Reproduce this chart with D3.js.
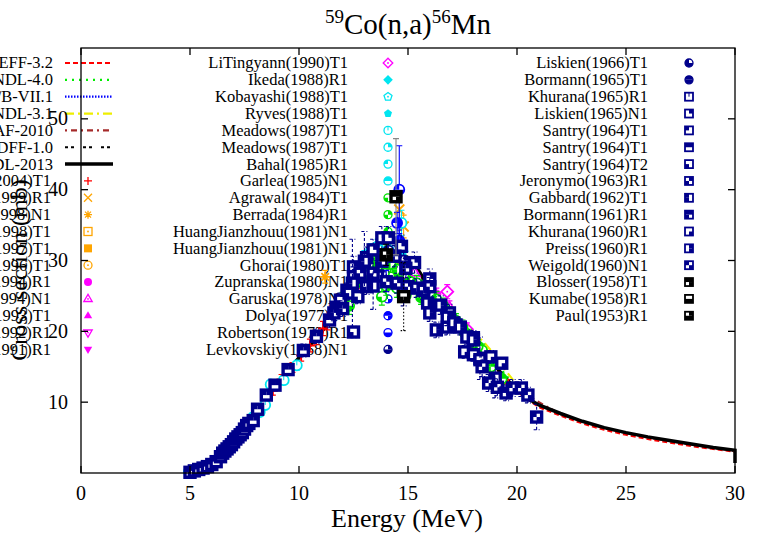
<!DOCTYPE html>
<html><head><meta charset="utf-8">
<script src="https://cdn.jsdelivr.net/npm/d3@7"></script>
<style>body{margin:0;background:#fff}</style>
</head><body><svg id="c" width="761" height="534" font-family="Liberation Serif, Times New Roman, serif" style="display:block"></svg>
<script>
// ---------- evaluated data ----------
const evalNames = ["JEFF-3.2","JENDL-4.0","ENDF/B-VII.1","CENDL-3.1","EAF-2010","IRDFF-1.0","TENDL-2013"];
const tendlE = [4.8,5,5.5,6,6.5,7,7.5,8,8.5,9,9.5,10,10.5,11,11.5,12,12.5,13,13.5,14,14.5,15,15.5,16,16.5,17,17.5,18,18.5,19,19.5,20,20.5,21,22,23,24,25,26,27,28,29,30,30];
const tendlS = [0,0.1,0.6,1.3,2.6,4.3,6.3,8.6,10.7,12.5,14.4,16.3,18.0,19.8,21.8,23.7,25.6,27.3,29.0,30.4,31.3,30.4,28.5,26.1,23.9,22.2,20.8,19.2,17.2,15.1,13.3,11.8,10.5,9.6,8.4,7.3,6.4,5.7,5.1,4.6,4.1,3.6,3.2,1.4];
const jeffE = [4.8,5,5.5,6,6.5,7,7.5,8,8.5,9,9.5,10,11,12,13,14,14.5,15,16,17,18,19,20,21,22,23,24,25,26,27,28,29,30];
const jeffS = [0,0.1,0.5,1.2,2.5,4.2,6.2,8.4,10.5,12.4,14.3,16.2,19.7,23.5,27.0,30.1,30.9,30.0,25.8,21.9,18.8,14.8,11.5,9.3,8.1,7.0,6.1,5.4,4.8,4.3,3.8,3.4,3.0];
const jendlE = [4.8,5,6,7,8,9,10,11,12,13,14,14.5,15,16,17,17.5,18,19,20];
const jendlS = [0,0.1,1.3,4.4,8.7,12.6,16.4,19.9,23.8,27.4,30.3,31.0,30.2,26.4,22.8,21.4,20.0,15.6,12.0];
const endfE = [4.8,5,6,7,8,9,10,11,12,13,14,14.5,15,16,17,18,19,20];
const endfS = [0,0.1,1.2,4.2,8.5,12.4,16.2,19.7,23.6,27.2,30.2,31.0,30.1,26.0,22.1,18.9,15.0,11.7];
const cendlE = [4.8,5,6,7,8,9,10,11,12,13,14,14.5,15,16,17,18,18.5,19,19.5,20];
const cendlS = [0,0.1,1.3,4.3,8.6,12.5,16.3,19.8,23.7,27.3,30.3,31.1,30.3,26.3,22.7,19.9,18.4,16.6,14.4,12.4];
const eafE = [4.8,5,6,7,8,9,10,11,12,13,14,14.5,15,16,17,18,19,20,22,24,26,28,30];
const eafS = [0,0.1,1.3,4.3,8.6,12.5,16.3,19.8,23.7,27.3,30.4,31.2,30.3,26.1,22.2,19.1,15.0,11.7,8.3,6.3,5.0,4.0,3.1];
const irdffE = [4.8,5,6,7,8,9,10,11,12,13,14,14.5,15,16,17,18,19,20];
const irdffS = [0,0.1,1.3,4.3,8.6,12.5,16.3,19.8,23.7,27.3,30.4,31.2,30.4,26.1,22.2,19.2,15.1,11.8];

// ---------- experimental data [E, sigma, dsigma] ----------
const exp01 = [[8.5,10.6,0.5],[8.8,11.6,0.6],[9.2,13.2,0.7],[9.7,14.9,0.7],[10.1,16.6,0.8],[10.5,18.0,0.9],[10.8,19.0,0.9],[11.1,20.4,1.0],[11.3,21.2,1.0],[11.5,22.6,1.1],[11.8,23.7,1.1],[12.1,24.6,1.2],[14.1,29.8,1.4],[17.6,19.5,0.9],[18.6,16.0,0.8],[19.6,12.6,0.6]];
const exp02 = [[14.6,37.2,1.8],[14.8,34.8,1.6]];
const exp03 = [[11.2,27.7,0.9],[13.7,31.2,1.2]];
const exp04 = [[14.0,30.9,1.3]];
const exp05 = [[14.7,29.2,1.2]];
const exp06 = [[13.5,29.3,1.3]];
const exp07 = [[16.3,25.2,0.9],[17.7,19.9,0.8]];
const exp08 = [[15.3,28.3,1.0],[16.9,23.4,0.9]];
const exp09 = [[14.4,30.2,1.2]];
const exp10 = [[18.5,15.9,0.8]];
const exp11 = [[13.9,28.8,1.1]];
const exp12 = [[16.8,25.6,1.0],[17.7,20.3,0.9]];
const exp13 = [[14.9,29.8,1.5]];
const exp14 = [[14.1,31.6,1.0]];
const exp15 = [[14.7,31.0,1.0]];
const exp16 = [[4.95,0.2,0.02],[5.4,0.5,0.03],[5.9,1.1,0.06],[6.4,2.2,0.1],[6.9,3.9,0.2],[7.4,5.9,0.3],[7.9,7.9,0.4],[8.2,8.6,0.4],[8.45,9.6,0.5],[8.7,12.5,0.6],[9.3,13.1,0.6],[9.9,15.2,0.7]];
const exp17 = [[13.3,31.4,1.0],[13.6,32.0,1.0]];
const exp18 = [[14.7,35.3,1.8]];
const exp19 = [[13.0,30.2,1.2]];
const exp20 = [[13.8,24.9,1.2]];
const exp21 = [[14.6,28.0,1.4]];
const exp22 = [[13.0,28.0,1.2],[13.3,27.4,1.2],[13.6,29.1,1.2],[13.9,28.2,1.2],[14.2,29.5,1.2],[14.5,28.7,1.2],[14.8,27.9,1.2],[15.1,27.0,1.2],[15.4,26.8,1.1],[15.7,26.1,1.1],[16.0,25.2,1.1],[16.3,24.5,1.1],[16.6,23.7,1.0],[16.9,22.5,1.0],[17.2,21.5,1.0],[17.5,20.6,1.0],[17.8,19.4,0.9],[18.1,18.2,0.9],[18.4,17.3,0.9]];
const exp23 = [[12.0,24.5,1.0],[12.4,26.1,1.0],[12.8,27.2,1.0],[13.2,29.6,1.1],[13.5,30.4,1.1],[14.9,25.1,1.0],[15.6,24.8,1.0],[16.2,23.9,1.0],[17.0,21.4,1.0],[17.6,19.8,0.9],[18.2,17.9,0.9],[18.8,15.0,0.8],[19.3,13.3,0.8]];
const exp24 = [[12.3,23.6,1.2],[14.0,26.4,1.3]];
const exp25 = [[14.5,26.1,1.3]];
const exp26 = [[14.6,40.0,6.2]];
const exp27 = [[14.5,35.3,1.5],[14.6,32.8,1.5]];
const exp28 = [[14.0,27.1,1.5]];
const exp29 = [[14.8,30.0,2.0]];
const exp30 = [[14.1,31.4,1.5]];
const exp31 = [[14.8,26.5,1.5]];
const exp32 = [[14.8,25.6,2.0],[13.6,27.8,2.2]];
const exp33 = [[12.5,29.1,1.5],[13.1,30.4,1.5],[13.4,31.5,1.5],[13.8,33.2,1.6],[14.1,33.2,1.6],[14.7,32.0,1.6],[15.3,29.7,1.5],[16.0,27.4,1.4]];
const exp34 = [[5.0,0.1,0.02],[5.2,0.3,0.03],[5.4,0.5,0.04],[5.6,0.7,0.05],[5.8,0.9,0.06],[6.0,1.2,0.08],[6.2,1.6,0.1],[6.4,2.3,0.12],[6.5,2.8,0.14],[6.6,3.1,0.15],[6.7,3.4,0.17],[6.8,3.7,0.19],[6.9,4.0,0.2],[7.0,4.4,0.22],[7.1,4.8,0.24],[7.2,5.1,0.26],[7.3,5.4,0.27],[7.4,5.7,0.28],[7.5,6.2,0.3],[7.6,6.7,0.33],[7.7,7.0,0.35]];
const exp35 = [[7.9,7.4,0.4],[8.1,9.0,0.45],[8.5,11.0,0.55],[8.9,12.4,0.6],[9.5,14.6,0.7],[10.2,17.3,0.9],[10.8,19.3,1.0],[11.4,21.6,1.1],[11.7,23.4,1.2]];
const exp36 = [[12.5,19.9,0.8],[11.9,24.4,1.0],[12.2,25.8,1.0],[12.3,25.4,1.0],[12.7,24.9,1.0],[13.1,26.3,1.1]];
const exp37 = [[12.5,27.7,1.4],[12.8,28.2,1.4],[13.4,28.2,1.4],[14.0,27.0,1.4],[14.5,26.8,1.4],[15.0,26.3,1.3],[15.4,26.1,1.3],[15.7,25.8,1.3],[16.0,26.3,1.3]];
const exp38 = [[12.45,26.8,6.2],[13.0,29.9,4.2],[13.4,26.4,3.3],[18.3,16.2,3.0],[19.0,13.4,2.8]];
const exp39 = [[11.6,22.6,1.1],[12.0,23.2,1.1],[13.8,29.9,1.4],[14.4,30.6,1.5],[14.9,28.9,1.4]];
const exp40 = [[16.9,22.6,1.2],[17.2,20.9,1.1],[16.8,20.6,1.1],[18.0,19.1,1.0],[17.6,17.1,0.9],[18.0,16.7,0.9],[18.3,16.0,0.9],[18.8,16.4,0.9],[19.3,15.5,0.8]];
const exp41 = [[15.9,24.0,1.3],[16.5,23.7,1.3],[16.0,22.6,1.2],[16.8,22.0,1.2],[17.1,21.2,1.1],[17.4,20.6,1.1],[16.3,20.2,1.1],[17.7,19.2,1.0],[18.0,18.8,1.0]];
const exp42 = [[18.4,15.0,1.4],[18.7,12.7,1.2],[19.1,12.1,1.2],[19.5,11.3,1.1],[19.8,12.0,1.2],[20.2,12.0,1.2],[20.5,11.0,1.1],[20.9,7.9,1.8]];
const exp43 = [[14.45,39.0,8.2]];
const exp44 = [[14.8,24.9,4.8]];
const exp45 = [[14.0,30.8,1.5]];

const expNames = ["Semkova(2004)T1","Filatenkov(1999)R1","Kong Xiangzhong(1998)N1","Fessler(1998)T1","Molla(1997)T1","Hussain(1996)T1",
 "Uwamino(1994)R1","Ikeda(1994)N1","Viennot(1993)T1","Kong Xiangzhong(1992)R1","Li Tingyan(1991)R1",
 "LiTingyann(1990)T1","Ikeda(1988)R1","Kobayashi(1988)T1","Ryves(1988)T1","Meadows(1987)T1","Meadows(1987)T1","Bahal(1985)R1","Garlea(1985)N1",
 "Agrawal(1984)T1","Berrada(1984)R1","HuangJianzhouu(1981)N1","HuangJianzhouu(1981)N1","Ghorai(1980)T1","Zupranska(1980)N1","Garuska(1978)N1",
 "Dolya(1977)T1","Robertson(1973)R1","Levkovskiy(1968)N1",
 "Liskien(1966)T1","Bormann(1965)T1","Khurana(1965)R1","Liskien(1965)N1","Santry(1964)T1","Santry(1964)T1","Santry(1964)T2","Jeronymo(1963)R1",
 "Gabbard(1962)T1","Bormann(1961)R1","Khurana(1960)R1","Preiss(1960)R1","Weigold(1960)N1","Blosser(1958)T1","Kumabe(1958)R1","Paul(1953)R1"];
const expData = [exp01,exp02,exp03,exp04,exp05,exp06,exp07,exp08,exp09,exp10,exp11,exp12,exp13,exp14,exp15,exp16,exp17,exp18,exp19,exp20,
 exp21,exp22,exp23,exp24,exp25,exp26,exp27,exp28,exp29,exp30,exp31,exp32,exp33,exp34,exp35,exp36,exp37,exp38,exp39,exp40,exp41,exp42,exp43,exp44,exp45];

const xTicks = [0,5,10,15,20,25,30];
const yTicks = [10,20,30,40,50];

// ---------- styles ----------
const RED="#ff0000", ORA="#ffa500", MAG="#ff00ff", CYA="#00e5f0", GRN="#00e000", BLU="#0000ff", NAV="#00008b", BLK="#000000";
const expStyle = [
 [RED,"plus"],[ORA,"cross"],[ORA,"star"],[ORA,"sqdot"],[ORA,"sqfill"],[ORA,"circdot"],
 [MAG,"circfill"],[MAG,"tridot"],[MAG,"trifill"],[MAG,"itridot"],[MAG,"itrifill"],[MAG,"diadot"],
 [CYA,"diafill"],[CYA,"pentdot"],[CYA,"pentfill"],[CYA,"c0"],[CYA,"c1"],[CYA,"c2"],[CYA,"c3"],
 [GRN,"c4"],[GRN,"c5"],[GRN,"c6"],[GRN,"c7"],[GRN,"c8"],[GRN,"c9"],
 [BLU,"c10"],[BLU,"c11"],[BLU,"c12"],[NAV,"c13"],[NAV,"c14"],[NAV,"c15"],
 [NAV,"s0"],[NAV,"s1"],[NAV,"s2"],[NAV,"s3"],[NAV,"s4"],[NAV,"s5"],[NAV,"s6"],[NAV,"s7"],[NAV,"s8"],[NAV,"s9"],[NAV,"s10"],
 [BLK,"s11"],[BLK,"s12"],[BLK,"s13"]];
const evalStyle = [
 {c:RED,w:2.2,d:"5,3"},{c:"#00ee00",w:2.2,d:"2,5"},{c:BLU,w:2.2,d:"1.5,1.5"},{c:"#eeee00",w:2.2,d:"9,4,2,4"},
 {c:"#a52a2a",w:2.2,d:"2,4,6,4"},{c:BLK,w:2.2,d:"3,3,3,9"},{c:BLK,w:3.5,d:null}];
const evalData = [[jeffE,jeffS],[jendlE,jendlS],[endfE,endfS],[cendlE,cendlS],[eafE,eafS],[irdffE,irdffS],[tendlE,tendlS]];

// ---------- chart ----------
const L=81,R=735,T=48,B=473;
const svg = d3.select("#c");
const x = d3.scaleLinear().domain([0,30]).range([L,R]);
const y = d3.scaleLinear().domain([0,60]).range([B,T]);

function symbol(g, type, col, cx, cy, s, sw, sqw){
  const h=s/2;
  const dot=()=>g.append("circle").attr("cx",cx).attr("cy",cy).attr("r",0.9).attr("fill",col);
  if(type==="plus"){g.append("path").attr("d",`M${cx-h},${cy}H${cx+h}M${cx},${cy-h}V${cy+h}`).attr("stroke",col).attr("stroke-width",sw).attr("fill","none");return;}
  if(type==="cross"){g.append("path").attr("d",`M${cx-h},${cy-h}L${cx+h},${cy+h}M${cx-h},${cy+h}L${cx+h},${cy-h}`).attr("stroke",col).attr("stroke-width",sw).attr("fill","none");return;}
  if(type==="star"){g.append("path").attr("d",`M${cx-h},${cy}H${cx+h}M${cx},${cy-h}V${cy+h}M${cx-h*.75},${cy-h*.75}L${cx+h*.75},${cy+h*.75}M${cx-h*.75},${cy+h*.75}L${cx+h*.75},${cy-h*.75}`).attr("stroke",col).attr("stroke-width",sw).attr("fill","none");return;}
  if(type==="sqdot"||type==="sqfill"){const r=g.append("rect").attr("x",cx-h).attr("y",cy-h).attr("width",s).attr("height",s);
    if(type==="sqfill") r.attr("fill",col); else {r.attr("fill","#fff").attr("stroke",col).attr("stroke-width",sw);dot();} return;}
  if(type==="circdot"||type==="circfill"){const c=g.append("circle").attr("cx",cx).attr("cy",cy).attr("r",h);
    if(type==="circfill") c.attr("fill",col); else {c.attr("fill","#fff").attr("stroke",col).attr("stroke-width",sw);dot();} return;}
  let pts=null;
  if(type.startsWith("tri")) pts=[[0,-h*1.15],[-h*1.05,h*0.65],[h*1.05,h*0.65]];
  if(type.startsWith("itri")) pts=[[0,h*1.15],[-h*1.05,-h*0.65],[h*1.05,-h*0.65]];
  if(type.startsWith("dia")) pts=[[0,-h*1.2],[h*1.2,0],[0,h*1.2],[-h*1.2,0]];
  if(type.startsWith("pent")) pts=d3.range(5).map(i=>{const a=-Math.PI/2+i*2*Math.PI/5;return [h*1.05*Math.cos(a),h*1.05*Math.sin(a)];});
  if(pts){const p=g.append("polygon").attr("points",pts.map(q=>[cx+q[0],cy+q[1]].join(",")).join(" "));
    if(type.endsWith("fill")) p.attr("fill",col); else {p.attr("fill","#fff").attr("stroke",col).attr("stroke-width",sw);dot();} return;}
  const m=+type.slice(1);
  if(type[0]==="c"){
    g.append("circle").attr("cx",cx).attr("cy",cy).attr("r",h).attr("fill","#fff").attr("stroke",col).attr("stroke-width",sw);
    const quads=[[0,Math.PI/2],[1.5*Math.PI,2*Math.PI],[Math.PI,1.5*Math.PI],[Math.PI/2,Math.PI]]; // TR,TL,BL,BR
    const arc=d3.arc().innerRadius(0).outerRadius(h);
    quads.forEach((q,i)=>{ if(m&(1<<i)) g.append("path").attr("d",arc({startAngle:q[0],endAngle:q[1]})).attr("transform",`translate(${cx},${cy})`).attr("fill",col);});
    if(m===0) g.append("path").attr("d",`M${cx},${cy}V${cy-h}`).attr("stroke",col).attr("stroke-width",1);
  } else {
    g.append("rect").attr("x",cx-h).attr("y",cy-h).attr("width",s).attr("height",s).attr("fill","#fff").attr("stroke",col).attr("stroke-width",sqw);
    const qs=[[0,-h],[-h,-h],[-h,0],[0,0]]; // TR,TL,BL,BR
    qs.forEach((q,i)=>{ if(m&(1<<i)) g.append("rect").attr("x",cx+q[0]).attr("y",cy+q[1]).attr("width",h).attr("height",h).attr("fill",col);});
    if(m===0) g.append("path").attr("d",`M${cx},${cy}V${cy-h}`).attr("stroke",col).attr("stroke-width",1);
  }
}

// legend texts
const rowY = i => 63 + i*16.85;
const leg = svg.append("g").attr("font-size",16.5);
evalNames.forEach((n,i)=>{
  leg.append("text").attr("x",53).attr("y",rowY(i)).attr("dy","0.33em").attr("text-anchor","end").text(n);
  const st=evalStyle[i];
  leg.append("line").attr("x1",65).attr("x2",113).attr("y1",rowY(i)).attr("y2",rowY(i)).attr("stroke",st.c).attr("stroke-width",st.w).attr("stroke-dasharray",st.d);
});
const legPos = expNames.map((n,i)=>{
  if(i<11) return {tx:51,sx:88,yy:rowY(i+7)};
  if(i<29) return {tx:348,sx:388,yy:rowY(i-11)};
  return {tx:648,sx:689,yy:rowY(i-29)};
});
expNames.forEach((n,i)=>{
  leg.append("text").attr("x",legPos[i].tx).attr("y",legPos[i].yy).attr("dy","0.33em").attr("text-anchor","end").text(n);
});

// y axis title
svg.append("text").attr("transform","translate(27,270) rotate(-90)").attr("text-anchor","middle").attr("font-size",24).text("Cross section (mb)");

// legend symbols
expNames.forEach((n,i)=>{ symbol(leg, expStyle[i][1], expStyle[i][0], legPos[i].sx, legPos[i].yy, 8, 1.3, 1.8); });

// evaluated curves
const plot = svg.append("g");
evalData.forEach((d,i)=>{
  const st=evalStyle[i];
  const pts=d[0].map((e,k)=>[e,d[1][k]]);
  plot.append("path").attr("d",d3.line().x(p=>x(p[0])).y(p=>y(p[1]))(pts)).attr("fill","none")
    .attr("stroke",st.c).attr("stroke-width",st.w).attr("stroke-dasharray",st.d);
});

// experimental data
expData.forEach((ds,i)=>{
  const col=expStyle[i][0];
  const ecol = i===42 ? "#888" : col;
  const edash = (col===NAV) ? "3,2" : (i===43 ? "1.5,2" : null);
  const g=plot.append("g");
  ds.forEach(p=>{
    const y1=y(p[1]-p[2]), y2=y(p[1]+p[2]), cx=x(p[0]);
    g.append("path").attr("d",`M${cx},${y1}V${y2}M${cx-3},${y1}H${cx+3}M${cx-3},${y2}H${cx+3}`)
      .attr("stroke",ecol).attr("stroke-width",1.1).attr("fill","none").attr("stroke-dasharray",edash);
  });
  ds.forEach(p=>symbol(g, expStyle[i][1], col, x(p[0]), y(p[1]), 10, 1.8, 3.4));
});

// frame & ticks
const ax = svg.append("g").attr("stroke","#000").attr("stroke-width",1.3);
ax.append("rect").attr("x",L).attr("y",T).attr("width",R-L).attr("height",B-T).attr("fill","none");
xTicks.forEach(t=>{ ax.append("line").attr("x1",x(t)).attr("x2",x(t)).attr("y1",B).attr("y2",B-7);
  ax.append("line").attr("x1",x(t)).attr("x2",x(t)).attr("y1",T).attr("y2",T+7); });
yTicks.forEach(t=>{ ax.append("line").attr("x1",L).attr("x2",L+7).attr("y1",y(t)).attr("y2",y(t));
  ax.append("line").attr("x1",R).attr("x2",R-7).attr("y1",y(t)).attr("y2",y(t)); });
const tl = svg.append("g").attr("font-size",20);
xTicks.forEach(t=>tl.append("text").attr("x",x(t)).attr("y",500).attr("text-anchor","middle").text(t));
yTicks.forEach(t=>tl.append("text").attr("x",68).attr("y",y(t)).attr("dy","0.33em").attr("text-anchor","end").text(t));

svg.append("text").attr("x",407).attr("y",527).attr("text-anchor","middle").attr("font-size",26).text("Energy (MeV)");
const title = svg.append("text").attr("x",408).attr("y",34).attr("text-anchor","middle").attr("font-size",29);
title.append("tspan").attr("font-size",19).attr("dy",-11).text("59");
title.append("tspan").attr("dy",11).text("Co(n,a)");
title.append("tspan").attr("font-size",19).attr("dy",-11).text("56");
title.append("tspan").attr("dy",11).text("Mn");
</script></body></html>
